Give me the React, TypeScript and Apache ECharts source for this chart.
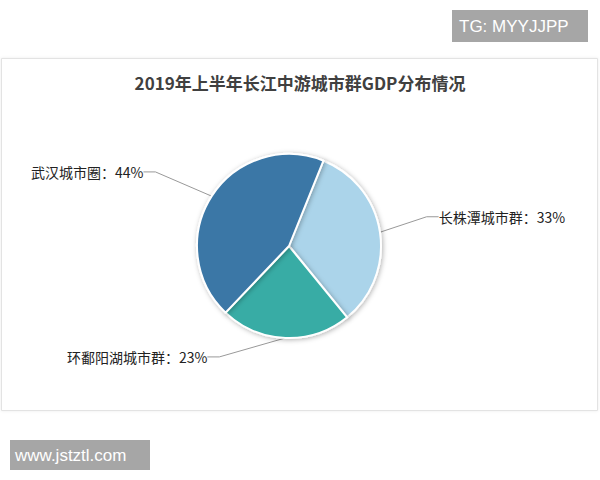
import React, { useEffect, useRef } from "react";
import * as echarts from "echarts";

const titleText = "2019年上半年长江中游城市群GDP分布情况";
const categories = ["长株潭城市群", "环鄱阳湖城市群", "武汉城市圈"];
const shares = [33, 23, 44];
const colors = ["#abd4ea", "#37aca5", "#3b77a6"];
const labelShift = [
  [12, -11],
  [-60, -11],
  [-26, -8],
];

export default function App() {
  const ref = useRef<HTMLDivElement>(null);
  useEffect(() => {
    const chart = echarts.init(ref.current!, undefined, { renderer: "svg" });
    const font = "'Noto Sans CJK SC', 'Microsoft YaHei', sans-serif";
    chart.setOption({
      animation: false,
      backgroundColor: "#ffffff",
      title: {
        text: titleText,
        left: "center",
        top: 69,
        textStyle: { fontSize: 17, fontWeight: "bold", color: "#404040", fontFamily: font },
      },
      graphic: [
        {
          type: "rect",
          z: -10,
          shape: { x: 1.5, y: 58.5, width: 596, height: 352 },
          style: { fill: "#ffffff", stroke: "#e3e3e3", lineWidth: 1, shadowBlur: 3, shadowColor: "rgba(0,0,0,0.08)" },
        },
        {
          type: "group",
          left: 452,
          top: 10,
          children: [
            { type: "rect", shape: { x: 0, y: 0, width: 136, height: 32 }, style: { fill: "#a6a6a6" } },
            {
              type: "text",
              x: 7,
              y: 16,
              style: { text: "TG: MYYJJPP", fill: "#ffffff", font: "17px 'Liberation Sans', Arial, sans-serif", verticalAlign: "middle" },
            },
          ],
        },
        {
          type: "group",
          left: 10,
          top: 440,
          children: [
            { type: "rect", shape: { x: 0, y: 0, width: 140, height: 30 }, style: { fill: "#a6a6a6" } },
            {
              type: "text",
              x: 5,
              y: 15,
              style: { text: "www.jstztl.com", fill: "#ffffff", font: "17px 'Liberation Sans', Arial, sans-serif", verticalAlign: "middle" },
            },
          ],
        },
      ],
      series: [
        {
          type: "pie",
          center: [289, 246],
          radius: [0, 92],
          startAngle: 68,
          clockwise: true,
          data: categories.map((name, i) => ({ name, value: shares[i], itemStyle: { color: colors[i] } })),
          itemStyle: {
            borderColor: "#ffffff",
            borderWidth: 2,
            shadowBlur: 5,
            shadowOffsetX: 1,
            shadowOffsetY: 1,
            shadowColor: "rgba(0,0,0,0.3)",
          },
          label: {
            show: true,
            formatter: "{b}：{d}%",
            fontSize: 14,
            color: "#222222",
            fontFamily: font,
          },
          labelLine: {
            show: true,
            length: 30,
            length2: 12,
            lineStyle: { color: "#999999", width: 1 },
          },
          labelLayout: (params: any) => {
            const r = params.labelRect;
            const s = labelShift[params.dataIndex];
            return {
              x: r.x + s[0],
              y: r.y + s[1],
              align: "left",
              verticalAlign: "top",
            };
          },
        },
      ],
    });
    return () => chart.dispose();
  }, []);
  return <div ref={ref} style={{ position: "fixed", left: 0, top: 0, width: 600, height: 480 }} />;
}
